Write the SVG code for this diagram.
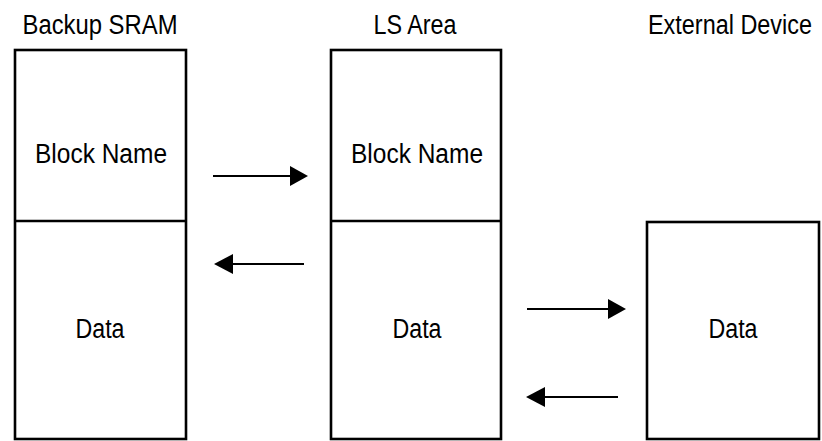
<svg xmlns="http://www.w3.org/2000/svg" width="822" height="441" viewBox="0 0 822 441">
<style>
.box{fill:#fff;stroke:#000;stroke-width:2.6}
.div{stroke:#000;stroke-width:2.6}
.t{font-family:"Liberation Sans",Arial,sans-serif;font-size:27px;fill:#000;text-anchor:middle}
.ln{stroke:#000;stroke-width:1.8;fill:none}
.hd{fill:#000}
</style>
<rect width="822" height="441" fill="#fff"/>
<g id="backup-sram">
<text class="t" x="100" y="34" textLength="155" lengthAdjust="spacingAndGlyphs">Backup SRAM</text>
<rect class="box" x="15" y="50" width="171" height="389"/>
<line class="div" x1="15" y1="221" x2="186" y2="221"/>
<text class="t" x="101" y="163" textLength="132" lengthAdjust="spacingAndGlyphs">Block Name</text>
<text class="t" x="100" y="338" textLength="49" lengthAdjust="spacingAndGlyphs">Data</text>
</g>
<g id="ls-area">
<text class="t" x="415" y="34" textLength="83" lengthAdjust="spacingAndGlyphs">LS Area</text>
<rect class="box" x="331" y="50" width="170" height="389"/>
<line class="div" x1="331" y1="221" x2="501" y2="221"/>
<text class="t" x="417" y="163" textLength="132" lengthAdjust="spacingAndGlyphs">Block Name</text>
<text class="t" x="417" y="338" textLength="49" lengthAdjust="spacingAndGlyphs">Data</text>
</g>
<g id="external-device">
<text class="t" x="730" y="34" textLength="164" lengthAdjust="spacingAndGlyphs">External Device</text>
<rect class="box" x="647" y="222" width="172" height="217"/>
<text class="t" x="733" y="338" textLength="49" lengthAdjust="spacingAndGlyphs">Data</text>
</g>
<g id="connectors">
<line class="ln" x1="213" y1="176" x2="292" y2="176"/>
<polygon class="hd" points="308,176 290,166 290,186"/>
<line class="ln" x1="304" y1="264" x2="230" y2="264"/>
<polygon class="hd" points="214,264 233,254 233,274"/>
<line class="ln" x1="527" y1="309" x2="610" y2="309"/>
<polygon class="hd" points="626,309 608,299 608,319"/>
<line class="ln" x1="618" y1="397" x2="542" y2="397"/>
<polygon class="hd" points="526,397 545,387 545,407"/>
</g>
</svg>
